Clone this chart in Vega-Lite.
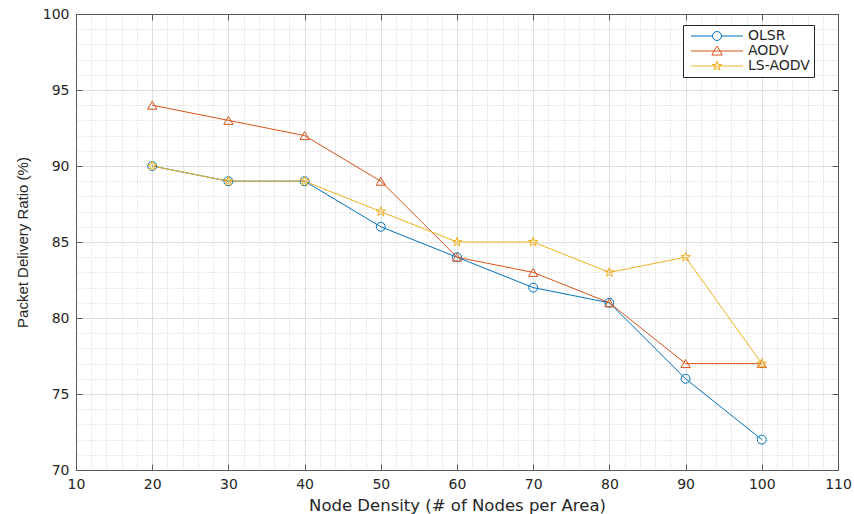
{
  "$schema": "https://vega.github.io/schema/vega-lite/v6.json",
  "width": 762,
  "height": 456,
  "autosize": {"type": "none"},
  "padding": {"left": 76, "top": 14, "right": 16, "bottom": 44},
  "background": "white",
  "config": {"view": {"stroke": null}},
  "data": {"values": [
    {"nodes": 20, "protocol": "OLSR", "pdr": 90},
    {"nodes": 30, "protocol": "OLSR", "pdr": 89},
    {"nodes": 40, "protocol": "OLSR", "pdr": 89},
    {"nodes": 50, "protocol": "OLSR", "pdr": 86},
    {"nodes": 60, "protocol": "OLSR", "pdr": 84},
    {"nodes": 70, "protocol": "OLSR", "pdr": 82},
    {"nodes": 80, "protocol": "OLSR", "pdr": 81},
    {"nodes": 90, "protocol": "OLSR", "pdr": 76},
    {"nodes": 100, "protocol": "OLSR", "pdr": 72},
    {"nodes": 20, "protocol": "AODV", "pdr": 94},
    {"nodes": 30, "protocol": "AODV", "pdr": 93},
    {"nodes": 40, "protocol": "AODV", "pdr": 92},
    {"nodes": 50, "protocol": "AODV", "pdr": 89},
    {"nodes": 60, "protocol": "AODV", "pdr": 84},
    {"nodes": 70, "protocol": "AODV", "pdr": 83},
    {"nodes": 80, "protocol": "AODV", "pdr": 81},
    {"nodes": 90, "protocol": "AODV", "pdr": 77},
    {"nodes": 100, "protocol": "AODV", "pdr": 77},
    {"nodes": 20, "protocol": "LS-AODV", "pdr": 90},
    {"nodes": 30, "protocol": "LS-AODV", "pdr": 89},
    {"nodes": 40, "protocol": "LS-AODV", "pdr": 89},
    {"nodes": 50, "protocol": "LS-AODV", "pdr": 87},
    {"nodes": 60, "protocol": "LS-AODV", "pdr": 85},
    {"nodes": 70, "protocol": "LS-AODV", "pdr": 85},
    {"nodes": 80, "protocol": "LS-AODV", "pdr": 83},
    {"nodes": 90, "protocol": "LS-AODV", "pdr": 84},
    {"nodes": 100, "protocol": "LS-AODV", "pdr": 77}
  ]},
  "resolve": {"axis": {"x": "independent", "y": "independent"}},
  "layer": [
    {
      "mark": {"type": "line", "strokeWidth": 1},
      "encoding": {
        "x": {"field": "nodes", "type": "quantitative",
          "scale": {"domain": [10, 110], "nice": false, "zero": false},
          "axis": {"orient": "bottom", "values": [12,14,16,18,22,24,26,28,32,34,36,38,42,44,46,48,52,54,56,58,62,64,66,68,72,74,76,78,82,84,86,88,92,94,96,98,102,104,106,108],
            "grid": true, "gridColor": "#cfcfcf", "gridDash": [1, 2], "gridWidth": 1,
            "domain": false, "ticks": false, "labels": false, "title": null}},
        "y": {"field": "pdr", "type": "quantitative",
          "scale": {"domain": [70, 100], "nice": false, "zero": false},
          "axis": {"orient": "left", "values": [71,72,73,74,76,77,78,79,81,82,83,84,86,87,88,89,91,92,93,94,96,97,98,99],
            "grid": true, "gridColor": "#cfcfcf", "gridDash": [1, 2], "gridWidth": 1,
            "domain": false, "ticks": false, "labels": false, "title": null}},
        "color": {"field": "protocol", "type": "nominal",
          "scale": {"domain": ["OLSR", "AODV", "LS-AODV"], "range": ["#0072BD", "#D95319", "#EDB120"]},
          "legend": {
            "title": null, "orient": "none", "legendX": 607, "legendY": 11,
            "direction": "vertical",
            "padding": 4, "strokeColor": "#262626", "fillColor": "white", "cornerRadius": 0,
            "symbolSize": 100, "symbolStrokeWidth": 1, "symbolOffset": 23,
            "labelFont": "DejaVu Sans", "labelFontSize": 14, "labelColor": "#262626", "labelOffset": 24,
            "rowPadding": 1,
            "encode": {"symbols": {"update": {
              "shape": {"signal": "datum.value === 'OLSR' ? 'M-5.2,0H-0.9M0.9,0H5.2M-0.9,0A0.9,0.9 0 1,0 0.9,0A0.9,0.9 0 1,0 -0.9,0' : datum.value === 'AODV' ? 'M-5.2,0H5.2M0,-1L1.05,0.8L-1.05,0.8Z' : 'M-5.2,0H5.2M0,-1L0.225,-0.309L0.951,-0.309L0.363,0.118L0.588,0.809L0,0.382L-0.588,0.809L-0.363,0.118L-0.951,-0.309L-0.225,-0.309Z'"},
              "fill": {"value": "transparent"},
              "strokeWidth": {"value": 1}
            }}}
          }}
      }
    },
    {
      "transform": [{"filter": "datum.protocol === 'OLSR'"}],
      "mark": {"type": "point", "filled": false, "strokeWidth": 1, "opacity": 1, "size": 80, "shape": "circle"},
      "encoding": {
        "x": {"field": "nodes", "type": "quantitative",
          "axis": {"orient": "bottom", "values": [10,20,30,40,50,60,70,80,90,100,110],
            "grid": true, "gridColor": "#dedede", "gridWidth": 1,
            "domain": true, "domainColor": "#5a5a5a", "domainWidth": 1,
            "ticks": true, "tickSize": -6, "tickColor": "#5a5a5a",
            "labelFont": "DejaVu Sans", "labelFontSize": 14, "labelColor": "#262626", "labelPadding": 13,
            "labelFlush": false,
            "title": "Node Density (# of Nodes per Area)", "titleFont": "DejaVu Sans", "titleFontSize": 16.5,
            "titleFontWeight": "normal", "titleColor": "#262626", "titlePadding": 6}},
        "y": {"field": "pdr", "type": "quantitative",
          "axis": {"orient": "left", "values": [70,75,80,85,90,95,100],
            "grid": true, "gridColor": "#dedede", "gridWidth": 1,
            "domain": true, "domainColor": "#5a5a5a", "domainWidth": 1,
            "ticks": true, "tickSize": -6, "tickColor": "#5a5a5a",
            "labelFont": "DejaVu Sans", "labelFontSize": 14, "labelColor": "#262626", "labelPadding": 13,
            "labelFlush": false,
            "title": "Packet Delivery Ratio (%)", "titleFont": "Liberation Sans", "titleFontSize": 15,
            "titleFontWeight": "normal", "titleColor": "#262626", "titlePadding": 12}},
        "color": {"field": "protocol", "type": "nominal", "legend": null}
      }
    },
    {
      "transform": [{"filter": "datum.protocol === 'AODV'"}],
      "mark": {"type": "point", "filled": false, "strokeWidth": 1, "opacity": 1, "size": 85, "shape": "triangle-up"},
      "encoding": {
        "x": {"field": "nodes", "type": "quantitative",
          "axis": {"orient": "top", "values": [10,20,30,40,50,60,70,80,90,100,110],
            "grid": false, "domain": true, "domainColor": "#5a5a5a", "domainWidth": 1,
            "ticks": true, "tickSize": -6, "tickColor": "#5a5a5a", "labels": false, "title": null}},
        "y": {"field": "pdr", "type": "quantitative",
          "axis": {"orient": "right", "values": [70,75,80,85,90,95,100],
            "grid": false, "domain": true, "domainColor": "#5a5a5a", "domainWidth": 1,
            "ticks": true, "tickSize": -6, "tickColor": "#5a5a5a", "labels": false, "title": null}},
        "color": {"field": "protocol", "type": "nominal", "legend": null}
      }
    },
    {
      "transform": [{"filter": "datum.protocol === 'LS-AODV'"}],
      "mark": {"type": "point", "filled": false, "strokeWidth": 1, "opacity": 1, "size": 100,
        "shape": "M0,-1L0.225,-0.309L0.951,-0.309L0.363,0.118L0.588,0.809L0,0.382L-0.588,0.809L-0.363,0.118L-0.951,-0.309L-0.225,-0.309Z"},
      "encoding": {
        "x": {"field": "nodes", "type": "quantitative", "axis": null},
        "y": {"field": "pdr", "type": "quantitative", "axis": null},
        "color": {"field": "protocol", "type": "nominal", "legend": null}
      }
    }
  ]
}
